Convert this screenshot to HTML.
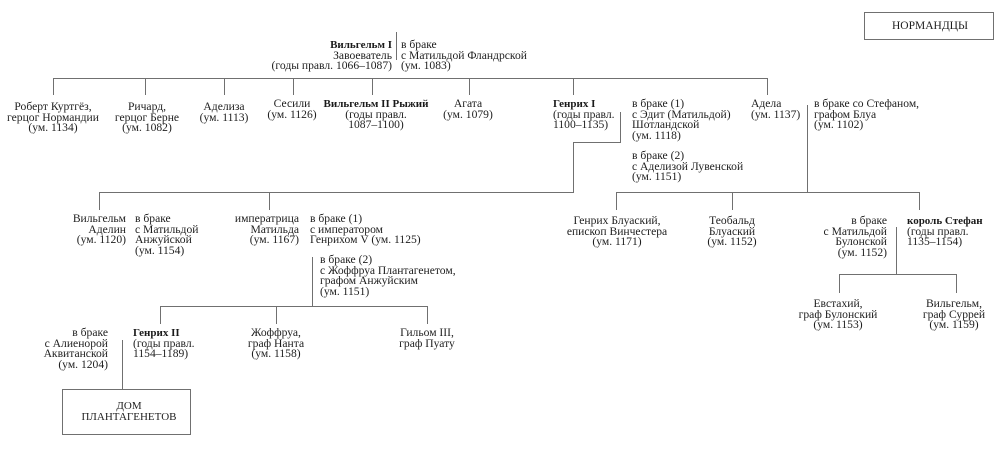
<!DOCTYPE html>
<html><head><meta charset="utf-8"><style>
html,body{margin:0;padding:0;background:#fff;}
#c{position:relative;width:1000px;height:458px;overflow:hidden;background:#fff;}
.t{position:absolute;font-family:"Liberation Serif","DejaVu Serif",serif;font-size:11.6px;line-height:10.7px;color:#1e1e1e;white-space:nowrap;}
.r{text-align:right;}
.m{text-align:center;width:200px;}
b{font-weight:bold;color:#1a1a1a;font-size:11px;}
svg{position:absolute;left:0;top:0;}
</style></head><body><div id="c">
<svg width="1000" height="458" viewBox="0 0 1000 458">
<g stroke="#707070" stroke-width="1" fill="none" shape-rendering="crispEdges">
<line x1="396.5" y1="32" x2="396.5" y2="60"/>
<line x1="53" y1="78.5" x2="768" y2="78.5"/>
<line x1="53.5" y1="78" x2="53.5" y2="95"/>
<line x1="145.5" y1="78" x2="145.5" y2="95"/>
<line x1="224.5" y1="78" x2="224.5" y2="95"/>
<line x1="293.5" y1="78" x2="293.5" y2="95"/>
<line x1="372.5" y1="78" x2="372.5" y2="95"/>
<line x1="469.5" y1="78" x2="469.5" y2="95"/>
<line x1="573.5" y1="78" x2="573.5" y2="95"/>
<line x1="767.5" y1="78" x2="767.5" y2="95"/>
<polyline points="620.5,112 620.5,142.5 573.5,142.5 573.5,192.5 99.5,192.5"/>
<line x1="99.5" y1="192" x2="99.5" y2="210"/>
<line x1="269.5" y1="192" x2="269.5" y2="210"/>
<line x1="807.5" y1="105" x2="807.5" y2="192"/>
<line x1="616" y1="192.5" x2="920" y2="192.5"/>
<line x1="616.5" y1="192" x2="616.5" y2="210"/>
<line x1="732.5" y1="192" x2="732.5" y2="210"/>
<line x1="919.5" y1="192" x2="919.5" y2="210"/>
<line x1="896.5" y1="227" x2="896.5" y2="274"/>
<line x1="839" y1="274.5" x2="957" y2="274.5"/>
<line x1="839.5" y1="274" x2="839.5" y2="293"/>
<line x1="956.5" y1="274" x2="956.5" y2="293"/>
<line x1="312.5" y1="257" x2="312.5" y2="306"/>
<line x1="160" y1="306.5" x2="428" y2="306.5"/>
<line x1="160.5" y1="306" x2="160.5" y2="324"/>
<line x1="276.5" y1="306" x2="276.5" y2="324"/>
<line x1="427.5" y1="306" x2="427.5" y2="324"/>
<line x1="122.5" y1="340" x2="122.5" y2="389"/>
<rect x="62.5" y="389.5" width="128" height="45"/>
<rect x="864.5" y="12.5" width="129" height="27"/>
</g>
</svg>

<div class="t r" style="right:608px;top:40px;"><b>Вильгельм I</b><br>Завоеватель<br>(годы правл. 1066–1087)</div>
<div class="t" style="left:401px;top:40px;">в браке<br>с Матильдой Фландрской<br>(ум. 1083)</div>

<div class="t m" style="left:-47px;top:102px;">Роберт Куртгёз,<br>герцог Нормандии<br>(ум. 1134)</div>
<div class="t m" style="left:47px;top:102px;">Ричард,<br>герцог Берне<br>(ум. 1082)</div>
<div class="t m" style="left:124px;top:102px;">Аделиза<br>(ум. 1113)</div>
<div class="t m" style="left:192px;top:99px;">Сесили<br>(ум. 1126)</div>
<div class="t m" style="left:276px;top:99px;"><b>Вильгельм II Рыжий</b><br>(годы правл.<br>1087–1100)</div>
<div class="t m" style="left:368px;top:99px;">Агата<br>(ум. 1079)</div>
<div class="t" style="left:553px;top:99px;"><b>Генрих I</b><br>(годы правл.<br>1100–1135)</div>
<div class="t" style="left:632px;top:99px;">в браке (1)<br>с Эдит (Матильдой)<br>Шотландской<br>(ум. 1118)</div>
<div class="t" style="left:632px;top:151px;">в браке (2)<br>с Аделизой Лувенской<br>(ум. 1151)</div>
<div class="t" style="left:751px;top:99px;">Адела<br>(ум. 1137)</div>
<div class="t" style="left:814px;top:99px;">в браке со Стефаном,<br>графом Блуа<br>(ум. 1102)</div>

<div class="t r" style="right:874px;top:214px;">Вильгельм<br>Аделин<br>(ум. 1120)</div>
<div class="t" style="left:135px;top:214px;">в браке<br>с Матильдой<br>Анжуйской<br>(ум. 1154)</div>
<div class="t r" style="right:701px;top:214px;">императрица<br>Матильда<br>(ум. 1167)</div>
<div class="t" style="left:310px;top:214px;">в браке (1)<br>с императором<br>Генрихом V (ум. 1125)</div>
<div class="t" style="left:320px;top:255px;">в браке (2)<br>с Жоффруа Плантагенетом,<br>графом Анжуйским<br>(ум. 1151)</div>

<div class="t m" style="left:517px;top:216px;">Генрих Блуаский,<br>епископ Винчестера<br>(ум. 1171)</div>
<div class="t m" style="left:632px;top:216px;">Теобальд<br>Блуаский<br>(ум. 1152)</div>
<div class="t r" style="right:113px;top:216px;">в браке<br>с Матильдой<br>Булонской<br>(ум. 1152)</div>
<div class="t" style="left:907px;top:216px;"><b>король Стефан</b><br>(годы правл.<br>1135–1154)</div>

<div class="t m" style="left:738px;top:299px;">Евстахий,<br>граф Булонский<br>(ум. 1153)</div>
<div class="t m" style="left:854px;top:299px;">Вильгельм,<br>граф Суррей<br>(ум. 1159)</div>

<div class="t r" style="right:892px;top:328px;">в браке<br>с Алиенорой<br>Аквитанской<br>(ум. 1204)</div>
<div class="t" style="left:133px;top:328px;"><b>Генрих II</b><br>(годы правл.<br>1154–1189)</div>
<div class="t m" style="left:176px;top:328px;">Жоффруа,<br>граф Нанта<br>(ум. 1158)</div>
<div class="t m" style="left:327px;top:328px;">Гильом III,<br>граф Пуату</div>

<div class="t m" style="left:29px;top:401px;font-size:11px;">ДОМ<br>ПЛАНТАГЕНЕТОВ</div>
<div class="t m" style="left:830px;top:21px;font-size:11.5px;">НОРМАНДЦЫ</div>
</div></body></html>
